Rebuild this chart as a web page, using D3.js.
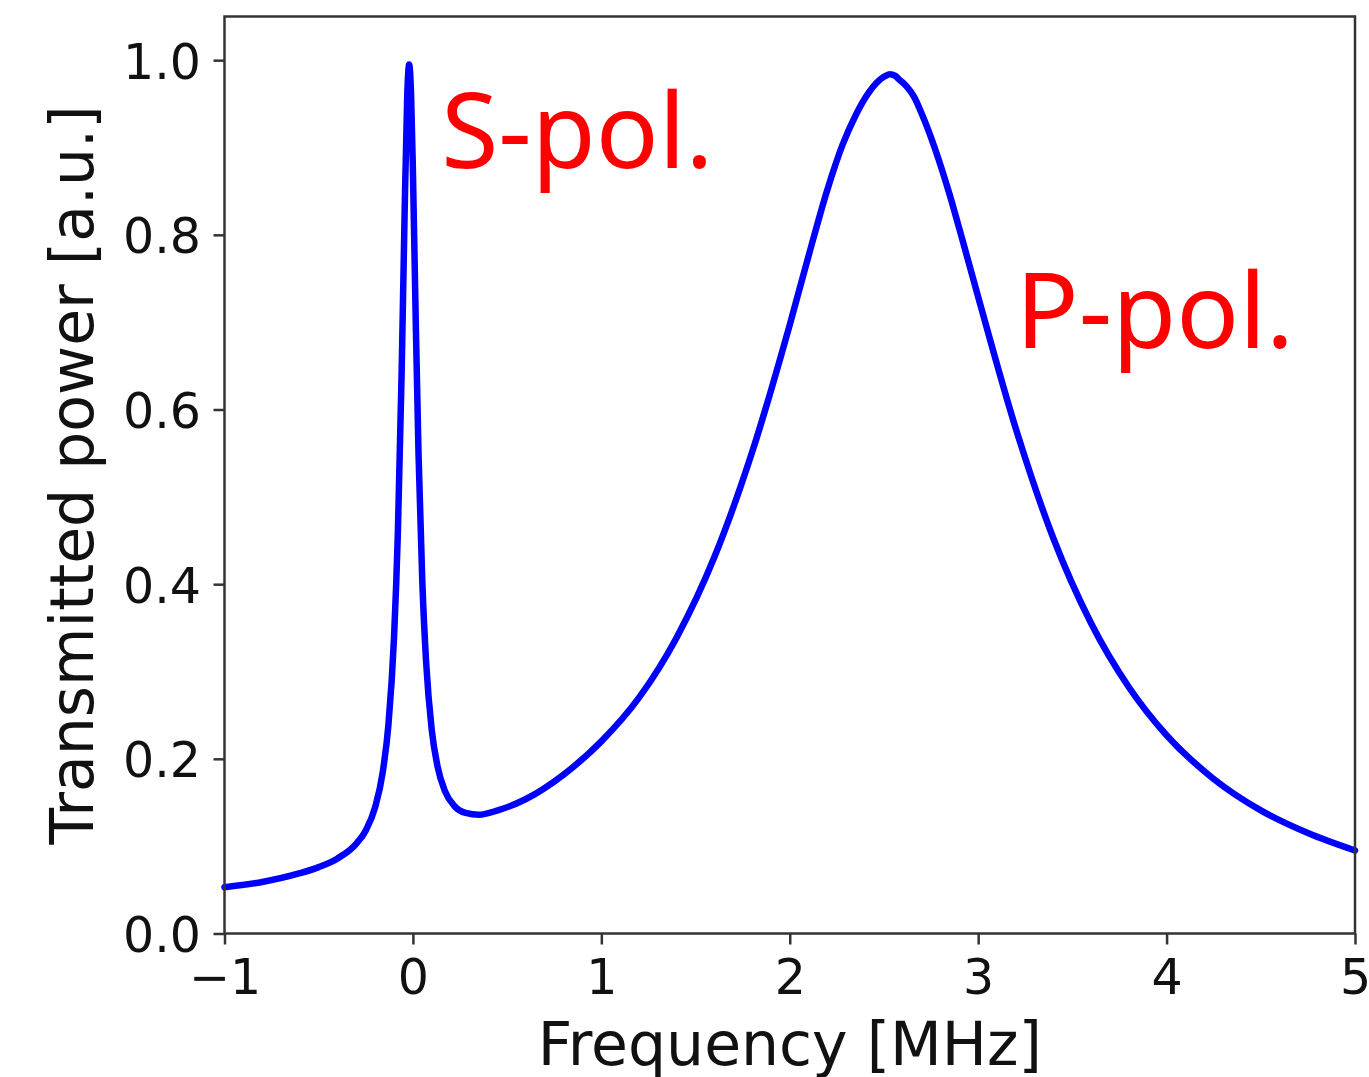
<!DOCTYPE html>
<html>
<head>
<meta charset="utf-8">
<script src="https://cdn.jsdelivr.net/npm/d3@7"></script>
<style>
  body { margin: 0; background: #fff; }
</style>
</head>
<body>
<svg width="1369" height="1077"></svg>
<script>
// frequency [MHz] and transmitted power
let freq = [-1.0, -0.8, -0.6, -0.5, -0.4, -0.3, -0.25, -0.2, -0.16, -0.13, -0.1, -0.08, -0.06, -0.045,
  -0.03, -0.02, -0.01, 0.0, 0.015, 0.03, 0.05, 0.07, 0.1, 0.13, 0.17, 0.22, 0.28, 0.35, 0.45, 0.6,
  0.8, 1.0, 1.2, 1.4, 1.6, 1.8, 2.0, 2.1, 2.2, 2.28, 2.35, 2.42, 2.47, 2.5, 2.53, 2.56, 2.58, 2.62, 2.66,
  2.7, 2.85, 2.9, 3.0, 3.2, 3.4, 3.6, 3.8, 4.0, 4.25, 4.5, 4.75, 5.0]
let power = [0.053, 0.059, 0.069, 0.076, 0.086, 0.103, 0.118, 0.145, 0.185, 0.239, 0.34, 0.458, 0.641, 0.814,
  0.961, 0.995, 0.962, 0.873, 0.701, 0.547, 0.402, 0.311, 0.233, 0.192, 0.163, 0.146, 0.138, 0.136, 0.141, 0.154,
  0.182, 0.22, 0.27, 0.339, 0.431, 0.551, 0.697, 0.776, 0.852, 0.903, 0.937, 0.963, 0.976, 0.981, 0.984, 0.982, 0.978, 0.97, 0.958,
  0.939, 0.845, 0.807, 0.729, 0.578, 0.452, 0.355, 0.282, 0.227, 0.177, 0.141, 0.115, 0.095]

let xTicks = [-1, 0, 1, 2, 3, 4, 5]
let yTicks = [0.0, 0.2, 0.4, 0.6, 0.8, 1.0]

let labels = [
  {text: "S-pol.", f: 0.15, p: 0.876},
  {text: "P-pol.", f: 3.2, p: 0.67}
]

let svg = d3.select("svg")
let mLeft = 224.5, mTop = 16.5, w = 1130.5, h = 917

let x = d3.scaleLinear().domain([-1, 5]).range([0, w])
let y = d3.scaleLinear().domain([0, 1.05]).range([h, 0])

let g = svg.append("g")
  .attr("transform", "translate(" + mLeft + "," + mTop + ")")

let dt = freq.map((f, i) => { return {f: f, p: power[i]} })

g.append("path")
  .datum(dt)
  .attr("fill", "none")
  .attr("stroke", "#0000ff")
  .attr("stroke-width", 6.5)
  .attr("stroke-linejoin", "round")
  .attr("stroke-linecap", "round")
  .attr("d", d3.line()
    .curve(d3.curveMonotoneX)
    .x((d) => { return x(d.f) })
    .y((d) => { return y(d.p) }))

// axes
let xa = g.append("g")
  .attr("transform", "translate(0," + h + ")")
  .call(d3.axisBottom(x).tickValues(xTicks).tickFormat(d3.format("d")).tickSize(11).tickSizeOuter(0).tickPadding(15))
let ya = g.append("g")
  .call(d3.axisLeft(y).tickValues(yTicks).tickFormat(d3.format(".1f")).tickSize(11).tickSizeOuter(0).tickPadding(12.5))

for (let a of [xa, ya]) {
  a.select(".domain").remove()
  a.selectAll(".tick line").attr("stroke", "#333").attr("stroke-width", 2.5)
  a.selectAll(".tick text")
    .attr("fill", "#111")
    .attr("font-family", "DejaVu Sans")
    .attr("font-size", "49px")
}
ya.selectAll(".tick text").attr("dy", "0.365em")

g.append("rect")
  .attr("width", w)
  .attr("height", h)
  .attr("fill", "none")
  .attr("stroke", "#333")
  .attr("stroke-width", 2.5)

svg.append("text")
  .attr("x", mLeft + w / 2)
  .attr("y", 1065)
  .attr("text-anchor", "middle")
  .attr("font-family", "DejaVu Sans")
  .attr("font-size", "60px")
  .attr("fill", "#111")
  .text("Frequency [MHz]")

svg.append("text")
  .attr("transform", "translate(93," + (mTop + h / 2) + ") rotate(-90)")
  .attr("text-anchor", "middle")
  .attr("font-family", "DejaVu Sans")
  .attr("font-size", "60px")
  .attr("fill", "#111")
  .text("Transmitted power [a.u.]")

g.selectAll(".lbl")
  .data(labels)
  .enter()
  .append("text")
  .attr("class", "lbl")
  .attr("x", (d) => { return x(d.f) })
  .attr("y", (d) => { return y(d.p) })
  .attr("font-family", "Noto Sans")
  .attr("font-size", "104px")
  .attr("fill", "#ff0000")
  .text((d) => { return d.text })
</script>
</body>
</html>
